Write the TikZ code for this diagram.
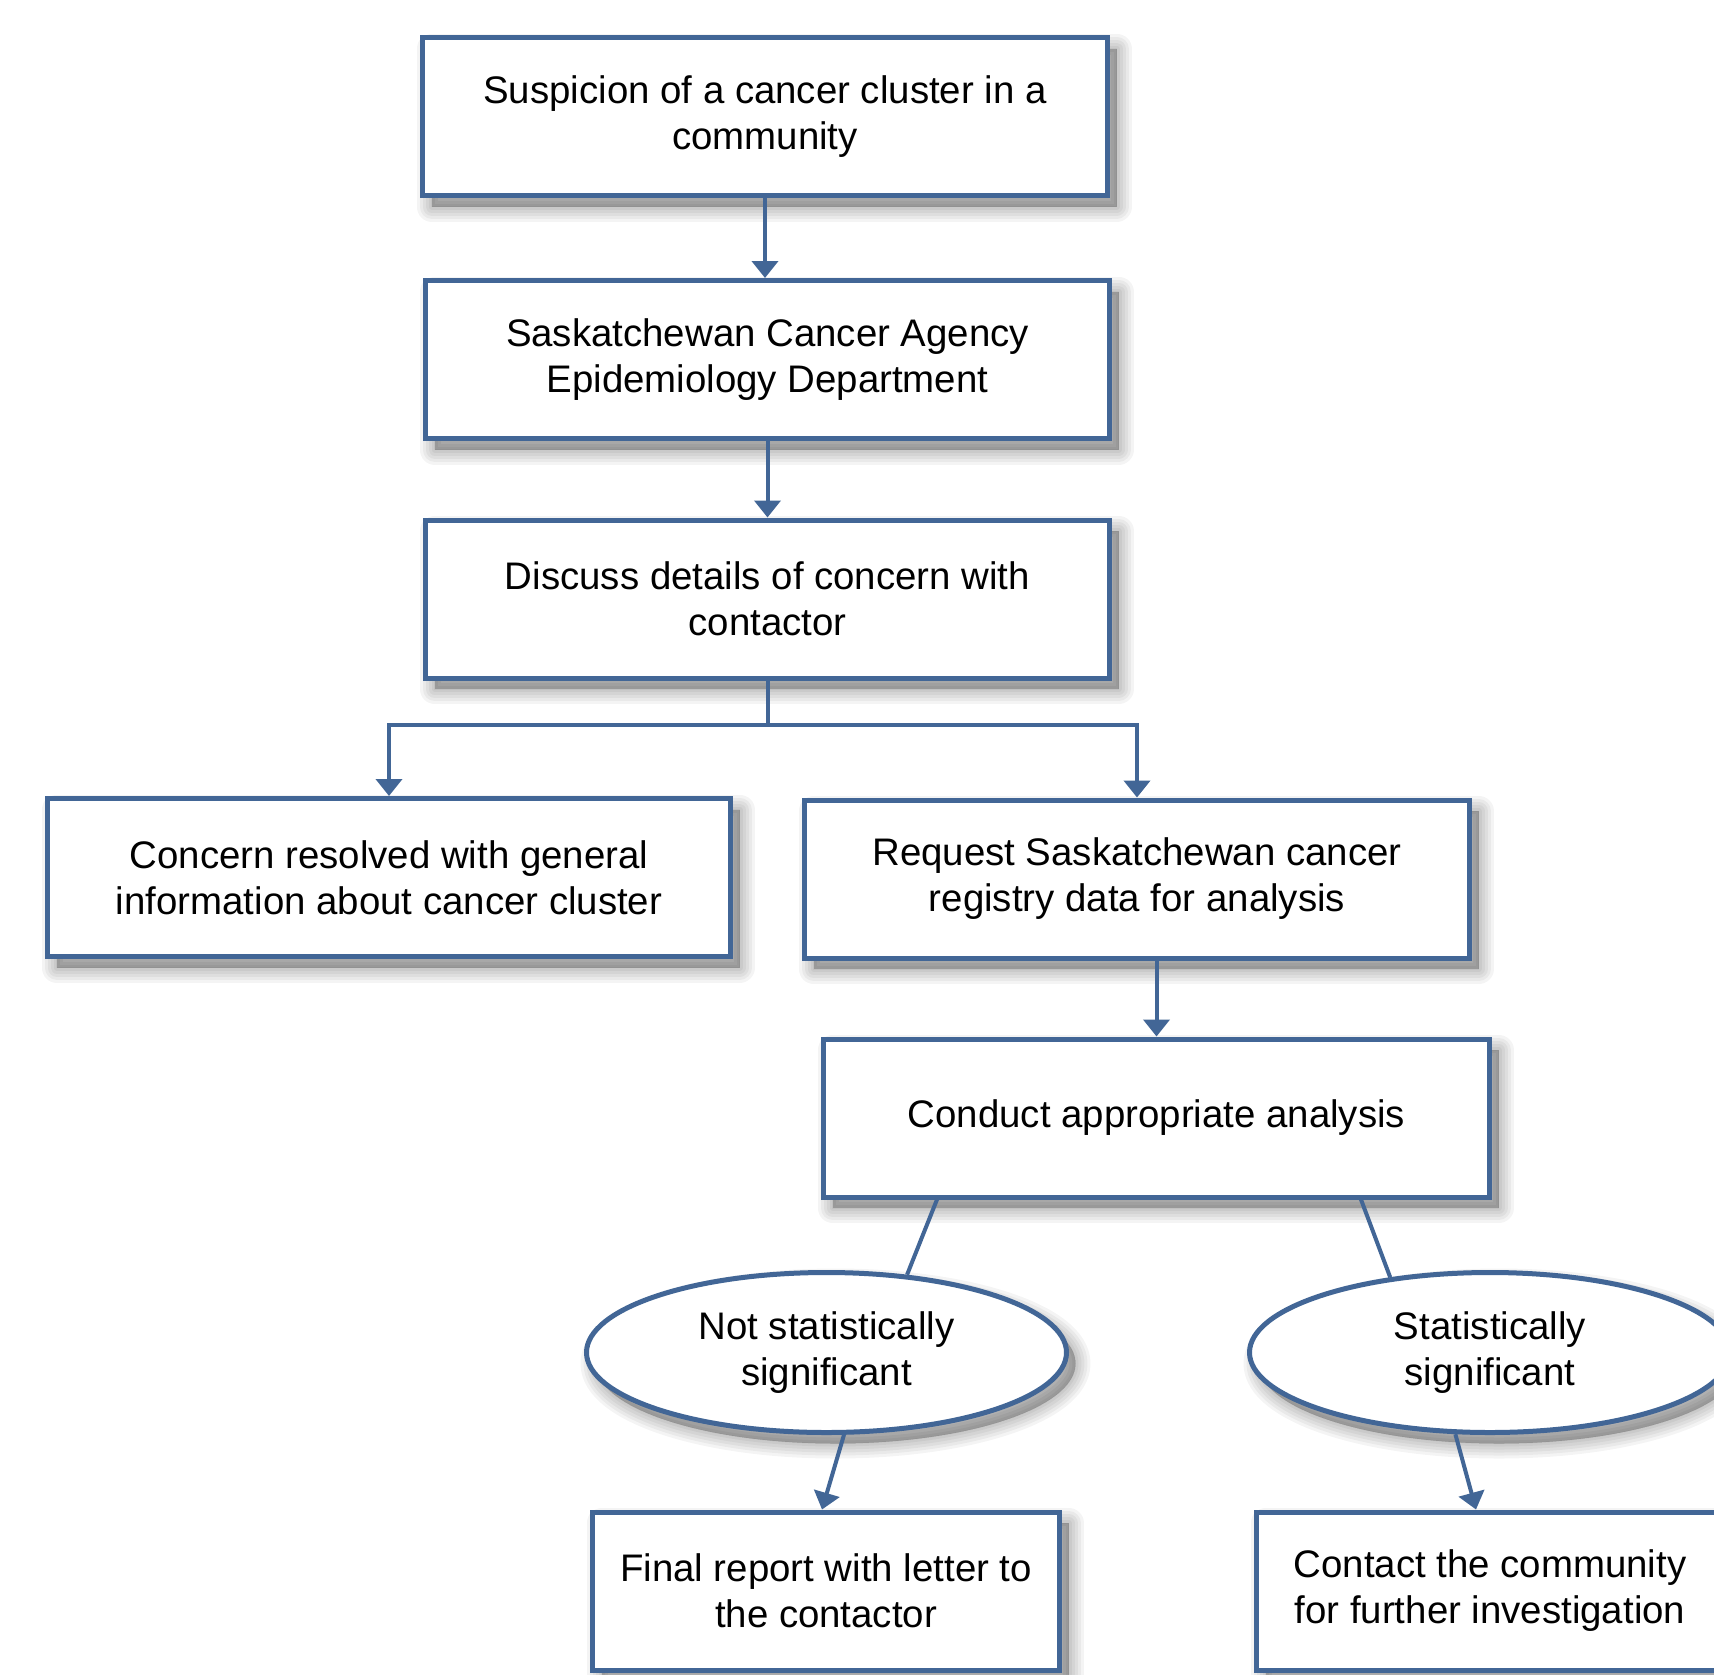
\documentclass[tikz,border=0pt]{standalone}
\usepackage{fontspec}
\setmainfont{Liberation Sans}
\usetikzlibrary{shapes.geometric,shadows,arrows.meta,calc}
\definecolor{bl}{RGB}{66,102,150}
\tikzset{
  shl/.style={general shadow={shadow xshift=9pt, shadow yshift=-11pt, fill=black, draw=black, line join=round, opacity=0.045, line width=#1}},
  softshadow/.style={
    shl=30pt, shl=24pt, shl=18pt, shl=12pt, shl=6pt, shl=1pt
  },
  box/.style={rectangle, draw=bl, line width=5pt, fill=white, softshadow,
    minimum height=158pt, inner sep=0pt, align=center,
    font=\fontsize{38.4pt}{46pt}\selectfont},
  oval/.style={ellipse, draw=bl, line width=5pt, fill=white, softshadow,
    minimum height=160pt, inner sep=0pt, align=center,
    font=\fontsize{38.4pt}{46pt}\selectfont},
  arr/.style={draw=bl, line width=4pt, -{Triangle[width=26pt,length=17pt]}},
  con/.style={draw=bl, line width=4pt}
}
\begin{document}
\begin{tikzpicture}[x=1pt,y=-1pt]
\useasboundingbox (0,0) rectangle (1714,1674);
\clip (0,0) rectangle (1714,1674);
\fill[white] (0,0) rectangle (1714,1674);

\node[box, minimum width=685pt] (b1) at (765,116.5) {Suspicion of a cancer cluster in a\\community};
\node[box, minimum width=684pt] (b2) at (767.5,359.5) {Saskatchewan Cancer Agency\\Epidemiology Department};
\node[box, minimum width=684pt] (b3) at (767.5,599) {Discuss details of concern with\\contactor};
\node[box, minimum width=683pt] (b4) at (389,877.5) {Concern resolved with general\\information about cancer cluster};
\node[box, minimum width=665pt] (b5) at (1137,879) {Request Saskatchewan cancer\\registry data for analysis};
\node[box, minimum width=666pt] (b6) at (1156.5,1118) {Conduct appropriate analysis};
\node[oval, minimum width=480pt] (e1) at (826.5,1352.5) {Not statistically\\significant};
\node[oval, minimum width=481pt] (e2) at (1490,1352.5) {Statistically\\significant};
\node[box, minimum width=467pt] (b7) at (826,1591) {Final report with letter to\\the contactor};
\node[box, minimum width=467pt] (b8) at (1490,1591) {Contact the community\\for further investigation};

\draw[arr] (b1.south) -- (b1.south |- b2.north);
\draw[arr] (b2.south) -- (b2.south |- b3.north);
\draw[con] (b3.south) -- ++(0,44) coordinate (j);
\draw[arr] (j) -| (b4.north);
\draw[arr] (j) -| (b5.north);
\draw[arr] (b6.north |- b5.south) -- (b6.north);

\coordinate (p1) at ($(b6.south west)+(116,0)$);
\coordinate (p2) at ($(b6.south east)+(-131,0)$);
\draw[con] (p1) -- (e1.44);
\draw[con] (p2) -- (e2.143);
\draw[arr] (e1.-78) -- ($(b7.north)+(-4,0)$);
\draw[arr] (e2.247) -- ($(b8.north)+(-14,0)$);
\end{tikzpicture}
\end{document}
